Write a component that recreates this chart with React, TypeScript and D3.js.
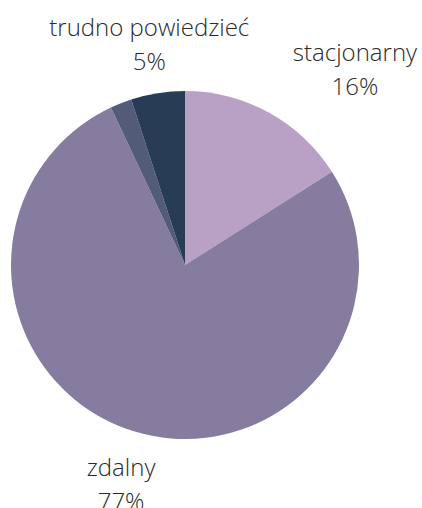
import React from "react";
import * as d3 from "d3";

const categories = ["stacjonarny", "zdalny", "inne", "trudno powiedzieć"];
const values = [16, 77, 2, 5];
const showLabel = [true, true, false, true];
const colors = ["#b9a0c5", "#857c9f", "#535b7b", "#283c55"];

const W = 422;
const H = 508;
const cx = 185;
const cy = 265;
const R = 174;
const labelR = 222;
const labelOffsets: Record<string, [number, number]> = {
  stacjonarny: [63, -9],
  zdalny: [-2, -2],
  "trudno powiedzieć": [-1, -10],
};

export default function App() {
  const pie = d3.pie<number>().sort(null).value((d) => d);
  const arcs = pie(values);
  const arc = d3.arc<d3.PieArcDatum<number>>().innerRadius(0).outerRadius(R);
  return (
    <svg
      width={W}
      height={H}
      style={{ position: "absolute", left: 0, top: 0 }}
      fontFamily="'Open Sans', sans-serif"
    >
      <g transform={`translate(${cx},${cy})`}>
        {arcs.map((a, i) => (
          <path key={i} d={arc(a) || ""} fill={colors[i]} />
        ))}
        {arcs.map((a, i) => {
          if (!showLabel[i]) return null;
          const mid = (a.startAngle + a.endAngle) / 2;
          const off = labelOffsets[categories[i]] || [0, 0];
          const x = Math.sin(mid) * labelR + off[0];
          const y = -Math.cos(mid) * labelR + off[1];
          return (
            <text
              key={"l" + i}
              x={x}
              y={y}
              textAnchor="middle"
              fontSize={24}
              fontWeight={300}
              fill="#2a2a2a"
            >
              <tspan x={x}>{categories[i]}</tspan>
              <tspan x={x} dy={34}>
                {values[i]}%
              </tspan>
            </text>
          );
        })}
      </g>
    </svg>
  );
}
